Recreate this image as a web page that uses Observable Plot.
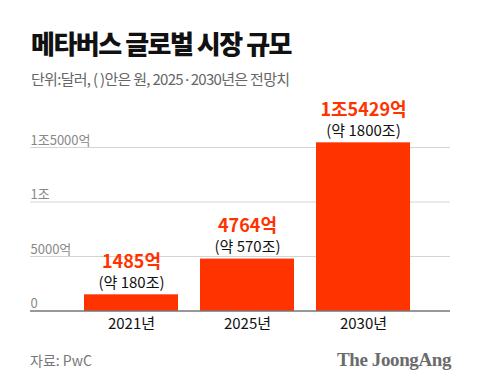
<!DOCTYPE html>
<html><head><meta charset="utf-8">
<script src="https://cdn.jsdelivr.net/npm/d3@7"></script>
<script src="https://cdn.jsdelivr.net/npm/@observablehq/plot@0.6"></script>
<style>
body{margin:0;width:480px;height:388px;background:#fff;position:relative;overflow:hidden;font-family:"Noto Sans CJK KR","Noto Sans",sans-serif;}
#title{position:absolute;left:31px;top:25px;font-size:26px;font-weight:900;color:#111;letter-spacing:-1.5px;line-height:36px;}
#sub{position:absolute;left:31px;top:69px;font-size:15px;color:#666;letter-spacing:-0.7px;line-height:20px;}
#chart{position:absolute;left:0;top:80px;}
#src{position:absolute;left:30px;top:350px;font-size:14px;color:#777;line-height:20px;}
#logo{position:absolute;right:29px;top:349px;font-family:"Liberation Serif","DejaVu Serif",serif;font-weight:bold;font-size:19px;color:#6b6b6b;letter-spacing:-0.4px;line-height:22px;}
</style></head>
<body>
<div id="title">메타버스 글로벌 시장 규모</div>
<div id="sub">단위:달러, ( )안은 원, 2025·2030년은 전망치</div>
<div id="chart"></div>
<div id="src">자료: PwC</div>
<div id="logo">The JoongAng</div>
<script>
const years = ["2021년", "2025년", "2030년"];
const values = [1485, 4764, 15429];
const valueLabels = ["1485억", "4764억", "1조5429억"];
const wonLabels = ["(약 180조)", "(약 570조)", "(약 1800조)"];
const yTicks = [0, 5000, 10000, 15000];
const yTickLabels = ["0", "5000억", "1조", "1조5000억"];

const data = years.map((y, i) => ({year: y, value: values[i], vl: valueLabels[i], wl: wonLabels[i]}));
const ticks = yTicks.map((t, i) => ({t, label: yTickLabels[i]}));
const red = "#ff3300";

const plot = Plot.plot({
  width: 480,
  height: 260,
  marginLeft: 30,
  marginRight: 30,
  marginTop: 0,
  marginBottom: 0,
  style: {fontFamily: '"Noto Sans CJK KR","Noto Sans",sans-serif', background: "transparent", overflow: "visible"},
  x: {domain: years, range: [84, 410.8], paddingInner: 0.19, paddingOuter: 0, axis: null},
  y: {domain: [0, 15000], range: [230.5, 67], axis: null},
  marks: [
    Plot.ruleY(yTicks.filter(d => d > 0), {stroke: "#d4d4d4", strokeWidth: 1}),
    Plot.text(ticks, {y: "t", text: "label", frameAnchor: "left", textAnchor: "start", lineAnchor: "bottom", dy: -3, fill: "#888", fontSize: 13}),
    Plot.barY(data, {x: "year", y: "value", fill: red}),
    Plot.ruleY([0], {stroke: "#333", strokeWidth: 1.2}),
    Plot.text(data, {x: "year", y: "value", text: "vl", dy: -33, fill: red, fontWeight: "bold", fontSize: 18}),
    Plot.text(data, {x: "year", y: "value", text: "wl", dy: -12, fill: "#111", fontSize: 15}),
    Plot.text(data, {x: "year", y: () => 0, text: "year", dy: 13, fill: "#111", fontSize: 15})
  ]
});
document.getElementById("chart").appendChild(plot);
</script>
</body></html>
